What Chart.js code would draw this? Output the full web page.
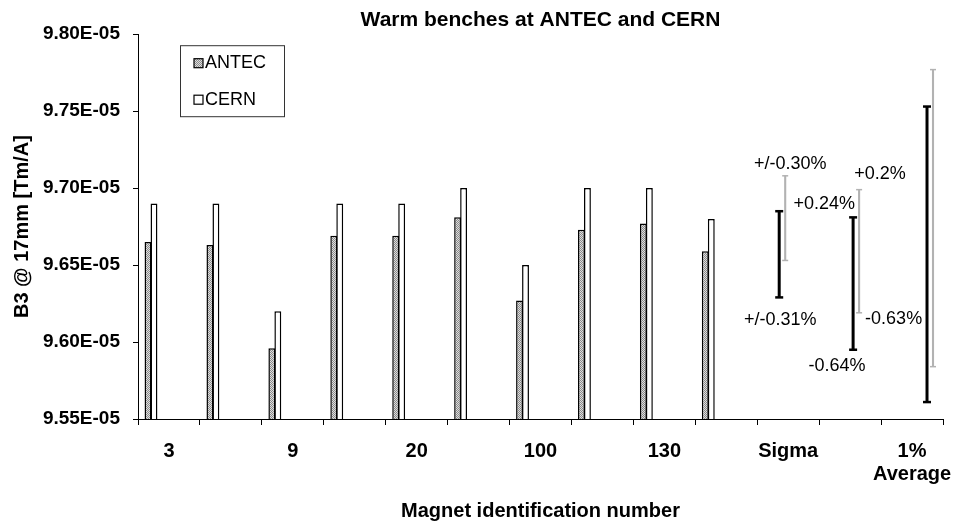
<!DOCTYPE html>
<html>
<head>
<meta charset="utf-8">
<title>Warm benches at ANTEC and CERN</title>
<script src="https://cdn.jsdelivr.net/npm/chart.js@4.4.1/dist/chart.umd.min.js"></script>
<style>
  html, body { margin: 0; padding: 0; background: #fff; }
  #wrap { width: 954px; height: 521px; }
</style>
</head>
<body>
<div id="wrap"><canvas id="benchChart"></canvas></div>
<script>
// magnet numbers (Excel only printed every second one)
const magnetIds = ['3', '', '9', '', '20', '', '100', '', '130', ''];
const summaryCats = ['Sigma', '', ['1%', 'Average']];

// B3 @ 17mm [Tm/A]
const antec = [9.665e-5, 9.663e-5, 9.596e-5, 9.669e-5, 9.669e-5, 9.681e-5, 9.627e-5, 9.673e-5, 9.677e-5, 9.659e-5];
const cern  = [9.690e-5, 9.690e-5, 9.620e-5, 9.690e-5, 9.690e-5, 9.700e-5, 9.650e-5, 9.700e-5, 9.700e-5, 9.680e-5];

// spread bars [low, high] : sigma, min/max, 1% band
const antecSpread = [[9.629e-5, 9.685e-5], [9.595e-5, 9.681e-5], [9.561e-5, 9.753e-5]];
const cernSpread  = [[9.653e-5, 9.708e-5], [9.619e-5, 9.699e-5], [9.584e-5, 9.777e-5]];

// notes on the spread bars [top, bottom]
const antecNotes = [['', '+/-0.31%'], ['+0.24%', '-0.64%'], ['', '']];
const cernNotes  = [['+/-0.30%', ''], ['+0.2%', '-0.63%'], ['', '']];

const yTickValues = [9.55e-5, 9.60e-5, 9.65e-5, 9.70e-5, 9.75e-5, 9.80e-5];

const FONT = "'Liberation Sans', Arial, Helvetica, sans-serif";

// grey dotted fill like the old excel pattern
function stipple() {
  const c = document.createElement('canvas');
  c.width = 2; c.height = 2;
  const g = c.getContext('2d');
  g.fillStyle = '#dedede'; g.fillRect(0, 0, 2, 2);
  g.fillStyle = '#8a8a8a'; g.fillRect(0, 0, 1, 1); g.fillRect(1, 1, 1, 1);
  return g.createPattern(c, 'repeat');
}

const labels = magnetIds.concat(summaryCats);
const nCat = labels.length;
const withBlanks = (arr) => arr.concat(summaryCats.map(() => null));

const datasets = [
  { label: 'ANTEC', data: withBlanks(antec), backgroundColor: stipple(), borderColor: '#000', borderWidth: 1.5, barPercentage: 1.15 },
  { label: 'CERN', data: withBlanks(cern), backgroundColor: '#fff', borderColor: '#000', borderWidth: 1.5, barPercentage: 1.15 }
];

antecSpread.forEach((range, i) => {
  const a = new Array(nCat).fill(null);
  a[magnetIds.length + i] = range;
  datasets.push({ label: 'ANTEC spread', data: a, backgroundColor: '#000', barPercentage: 0.5,
    spread: true, capW: 8, capT: 2.5, notes: antecNotes[i], bench: 0, group: i });

  const c = new Array(nCat).fill(null);
  c[magnetIds.length + i] = cernSpread[i];
  datasets.push({ label: 'CERN spread', data: c, backgroundColor: '#b2b2b2', barPercentage: 0.35,
    spread: true, capW: 6, capT: 1.5, notes: cernNotes[i], bench: 1, group: i });
});

// where each note goes relative to its bar end: [bench][group][top/bottom]
const notePlace = [
  [[null, { dx: 1, dy: 23, align: 'center' }],
   [{ dx: 2, dy: -13, align: 'right' }, { dx: -16, dy: 16, align: 'center' }],
   [null, null]],
  [[{ dx: 5, dy: -12, align: 'center' }, null],
   [{ dx: 21, dy: -16, align: 'center' }, { dx: 6, dy: 6, align: 'left' }],
   [null, null]]
];

const spreadPlugin = {
  id: 'spreadCaps',
  afterDatasetsDraw(chart) {
    const ctx = chart.ctx;
    chart.data.datasets.forEach((ds, i) => {
      if (!ds.spread) return;
      const meta = chart.getDatasetMeta(i);
      meta.data.forEach((bar, j) => {
        if (ds.data[j] == null) return;
        ctx.save();
        ctx.strokeStyle = ds.backgroundColor;
        ctx.lineWidth = ds.capT;
        [bar.y, bar.base].forEach((y) => {
          ctx.beginPath();
          ctx.moveTo(bar.x - ds.capW / 2, y);
          ctx.lineTo(bar.x + ds.capW / 2, y);
          ctx.stroke();
        });
        ctx.fillStyle = '#000';
        ctx.font = '18px ' + FONT;
        ctx.textBaseline = 'middle';
        [bar.y, bar.base].forEach((y, k) => {
          const txt = ds.notes[k];
          const p = notePlace[ds.bench][ds.group][k];
          if (!txt || !p) return;
          ctx.textAlign = p.align;
          ctx.fillText(txt, bar.x + p.dx, y + p.dy);
        });
        ctx.restore();
      });
    });
  }
};

const boxLegend = {
  id: 'boxLegend',
  afterDraw(chart) {
    const { ctx, chartArea } = chart;
    const x0 = chartArea.left + 42, y0 = chartArea.top + 11;
    ctx.save();
    ctx.fillStyle = '#fff';
    ctx.fillRect(x0, y0, 104, 71);
    ctx.strokeStyle = '#333';
    ctx.lineWidth = 1;
    ctx.strokeRect(x0 + 0.5, y0 + 0.5, 104, 71);
    [0, 1].forEach((k) => {
      const ds = chart.data.datasets[k];
      const cy = y0 + 18 + k * 36.5;
      ctx.fillStyle = ds.backgroundColor;
      ctx.fillRect(x0 + 14, cy - 4.5, 9, 9);
      ctx.strokeStyle = '#000';
      ctx.lineWidth = 1.2;
      ctx.strokeRect(x0 + 14, cy - 4.5, 9, 9);
      ctx.fillStyle = '#000';
      ctx.font = '18px ' + FONT;
      ctx.textAlign = 'left';
      ctx.textBaseline = 'middle';
      ctx.fillText(ds.label, x0 + 25, cy);
    });
    ctx.restore();
  }
};

new Chart(document.getElementById('benchChart'), {
  type: 'bar',
  data: { labels: labels, datasets: datasets },
  plugins: [spreadPlugin, boxLegend],
  options: {
    responsive: true,
    maintainAspectRatio: false,
    animation: false,
    devicePixelRatio: 1,
    layout: { padding: { top: 0, right: 11, bottom: 0, left: 0 } },
    datasets: { bar: { categoryPercentage: 0.774, barPercentage: 1 } },
    plugins: {
      legend: { display: false },
      tooltip: { enabled: false },
      title: {
        display: true,
        fullSize: false,
        text: 'Warm benches at ANTEC and CERN',
        color: '#000',
        font: { family: FONT, size: 21, weight: 'bold' },
        padding: { top: 8, bottom: 1 }
      }
    },
    scales: {
      x: {
        grid: { display: true, drawOnChartArea: false, color: '#000', tickLength: 6, offset: true },
        border: { display: true, color: '#000', width: 1 },
        ticks: {
          autoSkip: false, maxRotation: 0, color: '#000', padding: 15,
          font: { family: FONT, size: 20, weight: 'bold', lineHeight: 1.15 }
        },
        title: {
          display: true,
          text: 'Magnet identification number',
          color: '#000',
          font: { family: FONT, size: 20, weight: 'bold', lineHeight: 1 },
          padding: { top: 0, bottom: 0 }
        },
        afterFit(scale) {
          scale.height = 102;
          scale.paddingLeft = 0;
          scale.paddingRight = 0;
        }
      },
      y: {
        min: yTickValues[0],
        max: yTickValues[yTickValues.length - 1],
        afterBuildTicks(scale) {
          scale.ticks = yTickValues.map((v) => ({ value: v }));
        },
        grid: { display: true, drawOnChartArea: false, color: '#000', tickLength: 5 },
        border: { display: true, color: '#000', width: 1 },
        ticks: {
          color: '#000', padding: 13,
          font: { family: FONT, size: 19, weight: 'bold' },
          callback: (v) => (v * 1e5).toFixed(2) + 'E-05'
        },
        title: {
          display: true,
          text: 'B3 @ 17mm [Tm/A]',
          color: '#000',
          font: { family: FONT, size: 20, weight: 'bold' },
          padding: { top: 10, bottom: 0 }
        },
        afterFit(scale) {
          scale.width = 138;
        }
      }
    }
  }
});
</script>
</body>
</html>
